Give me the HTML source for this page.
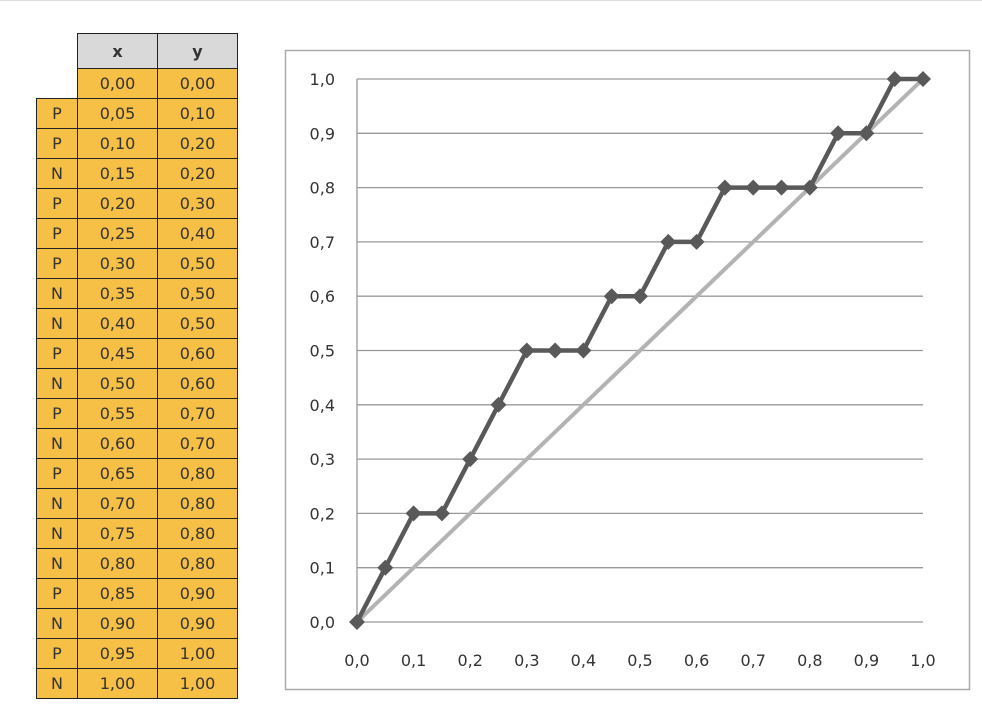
<!DOCTYPE html>
<html><head><meta charset="utf-8"><style>
body{margin:0;width:982px;height:708px;background:#fff;position:relative;overflow:hidden;font-family:"DejaVu Sans","Liberation Sans",sans-serif;}
#topline{position:absolute;left:0;top:0;width:982px;height:1px;background:#ddd}
table{position:absolute;left:36px;top:33px;border-collapse:collapse;font-size:16px;color:#333}
td{height:29px;padding:0;text-align:center;border:1.5px solid #222;background:#f6bf45}
td.l{width:40px}td.v{width:79px}
td.h{background:#d9d9d9;font-weight:bold;height:34px}
td.e{border:none;background:#fff}
svg{position:absolute;left:0;top:0}
</style></head><body>
<div id="topline"></div>
<table id="tbl">
<tr><td class="e l"></td><td class="h v">x</td><td class="h v">y</td></tr>
</table>
<svg id="chart" width="982" height="708"></svg>
<script>
const labels=["","P","P","N","P","P","P","N","N","P","N","P","N","P","N","N","N","P","N","P","N"];
const xs=[0,0.05,0.10,0.15,0.20,0.25,0.30,0.35,0.40,0.45,0.50,0.55,0.60,0.65,0.70,0.75,0.80,0.85,0.90,0.95,1.00];
const ys=[0,0.10,0.20,0.20,0.30,0.40,0.50,0.50,0.50,0.60,0.60,0.70,0.70,0.80,0.80,0.80,0.80,0.90,0.90,1.00,1.00];
const ticks=[0,0.1,0.2,0.3,0.4,0.5,0.6,0.7,0.8,0.9,1.0];
const fmt2=v=>v.toFixed(2).replace('.',',');
const fmt1=v=>v.toFixed(1).replace('.',',');
const tbl=document.getElementById('tbl');
labels.forEach((l,i)=>{
  const tr=document.createElement('tr');
  
  
  const a=document.createElement('td');a.className='l'+(l?'':' e');a.textContent=l;
  
  
  const b=document.createElement('td');b.className='v';b.textContent=fmt2(xs[i]);
  
  
  const c=document.createElement('td');c.className='v';c.textContent=fmt2(ys[i]);
  
  
  tr.append(a,b,c);tbl.appendChild(tr);
});
const NS='http://www.w3.org/2000/svg';
const svg=document.getElementById('chart');
const X0=357,X1=923,Y0=622,Y1=79;
const sx=v=>X0+(X1-X0)*v, sy=v=>Y0-(Y0-Y1)*v;
function mk(t,at){const e=document.createElementNS(NS,t);for(const k in at)e.setAttribute(k,at[k]);svg.appendChild(e);return e;}
const box=mk('rect',{x:285.5,y:50.5,width:684,height:639,fill:'#fff',stroke:'#aaa','stroke-width':1.5});


ticks.forEach(t=>{
  const g=mk('line',{x1:X0,x2:X1,y1:sy(t),y2:sy(t),stroke:'#999','stroke-width':1.3});
  
  
  const yl=mk('text',{x:335,y:sy(t)+6,'text-anchor':'end','font-size':16,fill:'#333'});
  yl.textContent=fmt1(t);
  
  
  const xl=mk('text',{x:sx(t),y:666,'text-anchor':'middle','font-size':16,fill:'#333'});
  xl.textContent=fmt1(t);
  
  
});
const ax=mk('line',{x1:X0,x2:X0,y1:Y1,y2:Y0,stroke:'#999','stroke-width':1.3});


const diag=mk('line',{x1:sx(0),y1:sy(0),x2:sx(1),y2:sy(1),stroke:'#b3b3b3','stroke-width':4});


const pl=mk('polyline',{points:xs.map((x,i)=>sx(x)+','+sy(ys[i])).join(' '),fill:'none',stroke:'#595959','stroke-width':4.5,'stroke-linejoin':'round'});


xs.forEach((x,i)=>{
  const cx=sx(x),cy=sy(ys[i]);
  const m=mk('polygon',{points:`${cx},${cy-8} ${cx+8},${cy} ${cx},${cy+8} ${cx-8},${cy}`,fill:'#595959'});
  
  
});
</script>
</body></html>
